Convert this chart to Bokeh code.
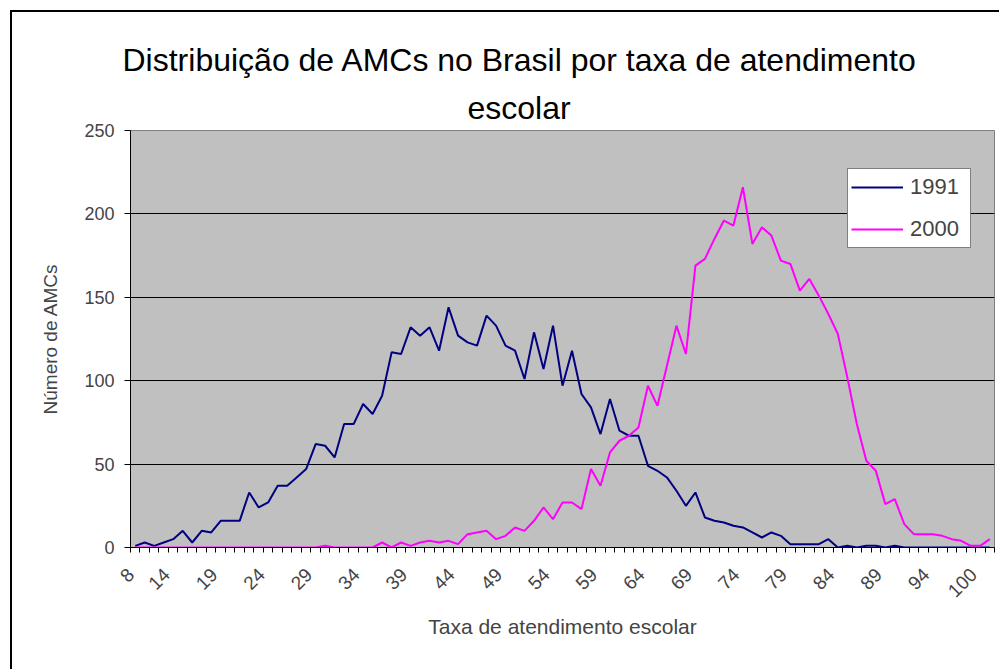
import math
from bokeh.plotting import figure
from bokeh.models import (FixedTicker, Legend, LegendItem, Range1d,
                          InlineStyleSheet, Title)
from bokeh.embed import file_html
from bokeh.resources import INLINE

# Category labels of the x axis (taxa de atendimento escolar)
categories = ["8", "10", "11", "12", "13",
              "14", "15", "16", "17", "18", "19", "20", "21", "22", "23",
              "24", "25", "26", "27", "28", "29", "30", "31", "32", "33",
              "34", "35", "36", "37", "38", "39", "40", "41", "42", "43",
              "44", "45", "46", "47", "48", "49", "50", "51", "52", "53",
              "54", "55", "56", "57", "58", "59", "60", "61", "62", "63",
              "64", "65", "66", "67", "68", "69", "70", "71", "72", "73",
              "74", "75", "76", "77", "78", "79", "80", "81", "82", "83",
              "84", "85", "86", "87", "88", "89", "90", "91", "92", "93",
              "94", "95", "96", "97", "98", "100"]

amc_1991 = [1, 3, 1, 3, 5, 10, 3, 10, 9, 16,
            16, 16, 33, 24, 27, 37, 37, 42, 47, 62,
            61, 54, 74, 74, 86, 80, 91, 117, 116, 132,
            127, 132, 118, 144, 127, 123, 121, 139, 133, 121,
            118, 101, 129, 107, 133, 97, 118, 92, 84, 68,
            89, 70, 67, 67, 49, 46, 42, 34, 25, 33,
            18, 16, 15, 13, 12, 9, 6, 9, 7, 2,
            2, 2, 2, 5, 0, 1, 0, 1, 1, 0,
            1, 0, 0, 0, 0, 0, 0, 0, 0, 0,
            0]

amc_2000 = [0, 0, 0, 0, 0, 0, 0, 0, 0, 0,
            0, 0, 0, 0, 0, 0, 0, 0, 0, 0,
            1, 0, 0, 0, 0, 0, 3, 0, 3, 1,
            3, 4, 3, 4, 2, 8, 9, 10, 5, 7,
            12, 10, 16, 24, 17, 27, 27, 23, 47, 37,
            57, 64, 67, 72, 97, 85, 109, 133, 116, 169,
            173, 185, 196, 193, 216, 182, 192, 187, 172, 170,
            154, 161, 151, 140, 128, 102, 74, 52, 46, 26,
            29, 14, 8, 8, 8, 7, 5, 4, 1, 1,
            5]

series_names = ["1991", "2000"]
y_ticks = [0, 50, 100, 150, 200, 250]
title_lines = ["Distribuição de AMCs no Brasil por taxa de atendimento", "escolar"]

FONT = "Liberation Sans"
n = len(categories)
xs = list(range(n))

frame_css = (":host { background: "
             "linear-gradient(#000, #000) 10px 10px / 2px 100% no-repeat, "
             "linear-gradient(#000, #000) 10px 10px / 100% 2px no-repeat, "
             "#ffffff; }")

p = figure(width=999, height=669, output_backend="svg", toolbar_location=None,
           title=None,
           x_range=Range1d(-0.5, n - 0.5), y_range=Range1d(0, 250),
           min_border_left=130, min_border_right=5,
           min_border_top=130, min_border_bottom=122,
           stylesheets=[InlineStyleSheet(css=frame_css)])

p.background_fill_color = "#C0C0C0"
p.border_fill_color = None
p.outline_line_color = "#808080"
p.outline_line_width = 1

# two centred title lines (nearest to the frame first)
t2 = Title(text=title_lines[1], align="left", offset=337,
           text_font=FONT, text_font_size="32px", text_font_style="normal",
           text_color="black")
t1 = Title(text=title_lines[0], align="left", offset=-8,
           text_font=FONT, text_font_size="32px", text_font_style="normal",
           text_color="black")
p.add_layout(t2, "above")
p.add_layout(t1, "above")

p.xgrid.visible = False
p.ygrid.ticker = FixedTicker(ticks=y_ticks)
p.ygrid.grid_line_color = "#000000"
p.ygrid.grid_line_width = 1

# y axis
p.yaxis.ticker = FixedTicker(ticks=y_ticks)
p.yaxis.axis_line_color = "black"
p.yaxis.major_tick_out = 6
p.yaxis.major_tick_in = 0
p.yaxis.minor_tick_out = 0
p.yaxis.minor_tick_in = 0
p.yaxis.major_label_text_font = FONT
p.yaxis.major_label_text_font_size = "18px"
p.yaxis.major_label_standoff = 10
p.yaxis.axis_label = "Número de AMCs"
p.yaxis.axis_label_text_font = FONT
p.yaxis.axis_label_text_font_size = "19px"
p.yaxis.axis_label_text_font_style = "normal"
p.yaxis.axis_label_standoff = 20

# x axis: a label every 5 categories (anchored like the spreadsheet's
# rotated labels), tick marks between categories
label_idx = list(range(0, n, 5))
label_pos = [max(i - 1.7, -0.45) for i in label_idx]
p.xaxis.ticker = FixedTicker(ticks=label_pos,
                             minor_ticks=[i - 0.5 for i in range(n + 1)])
p.xaxis.major_label_overrides = {pos: categories[i] for pos, i in zip(label_pos, label_idx)}
p.xaxis.major_label_orientation = math.pi / 4
p.xaxis.axis_line_color = "black"
p.xaxis.major_tick_out = 0
p.xaxis.major_tick_in = 0
p.xaxis.minor_tick_out = 5
p.xaxis.minor_tick_in = 0
p.xaxis.minor_tick_line_color = "black"
p.xaxis.major_label_text_font = FONT
p.xaxis.major_label_text_font_size = "19px"
p.xaxis.major_label_standoff = 19
p.xaxis.axis_label = "Taxa de atendimento escolar"
p.xaxis.axis_label_text_font = FONT
p.xaxis.axis_label_text_font_size = "21px"
p.xaxis.axis_label_text_font_style = "normal"
p.xaxis.axis_label_standoff = 9

r1 = p.line(xs, amc_1991, line_color="#000080", line_width=2)
r2 = p.line(xs, amc_2000, line_color="#FF00FF", line_width=2)

legend = Legend(items=[LegendItem(label=series_names[0], renderers=[r1]),
                       LegendItem(label=series_names[1], renderers=[r2])],
                location=(717, 299))
legend.label_text_font = FONT
legend.label_text_font_size = "22px"
legend.glyph_width = 52
legend.glyph_height = 30
legend.label_height = 30
legend.label_width = 57
legend.label_standoff = 7
legend.spacing = 12
legend.padding = 3
legend.margin = 0
legend.border_line_color = "black"
legend.border_line_width = 1
legend.background_fill_color = "white"
legend.background_fill_alpha = 1
p.add_layout(legend, "center")

open("out.html", "w").write(file_html(p, INLINE))
